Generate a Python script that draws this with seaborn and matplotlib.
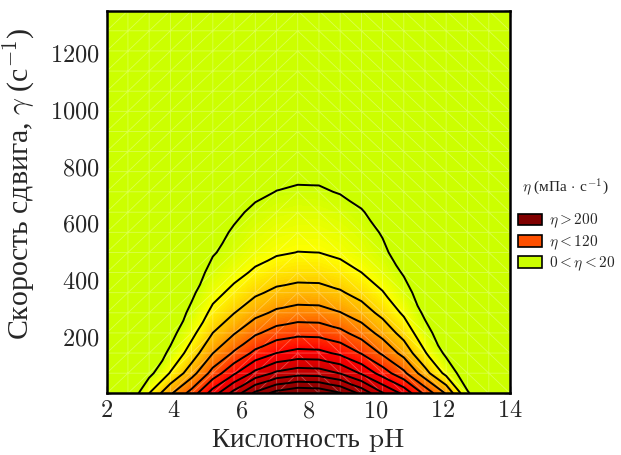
import numpy as np
import pandas as pd
import seaborn as sns
import matplotlib
matplotlib.use("Agg")
import matplotlib.pyplot as plt
import matplotlib.tri as mtri
from matplotlib.patches import Patch
from matplotlib.ticker import MultipleLocator

# ---- data ----
ph = [2.0, 2.632, 3.263, 3.895, 4.526, 5.158, 5.789, 6.421, 7.053, 7.684,
      8.316, 8.947, 9.579, 10.21, 10.84, 11.47, 12.1, 12.74, 13.37, 14.0]
shear = [0, 71, 142, 213, 284, 355, 426, 497, 568, 639,
         711, 782, 853, 924, 995, 1066, 1137, 1208, 1279, 1350]
# viscosity at the lowest shear rate, per pH node
eta_base = [0, 0, 40, 77, 108, 150, 188, 225, 248, 258,
            256, 242, 215, 182, 155, 115, 78, 22, 0, 0]
# relative fall of viscosity with shear rate (centre column)
shear_factor = [1.0, 0.744, 0.568, 0.442, 0.341, 0.264, 0.202, 0.156, 0.132, 0.1085,
                0.0837, 0.066, 0.052, 0.043, 0.035, 0.029, 0.023, 0.019, 0.016, 0.0135]
# how strongly each pH column thins with shear
decay_exponent = [4.0, 4.0, 3.5, 2.1, 1.4, 1.12, 1.07, 1.035, 1.01, 1.0,
                  1.0, 1.02, 1.05, 1.12, 1.33, 1.8, 2.8, 4.5, 5.0, 5.0]
line_levels = [20, 40, 60, 80, 100, 120, 140, 160, 180, 200, 220, 240]
band_colors = ["#CCFF00", "#CCFF00", "#FFFF00", "#FFCC00", "#FF9900", "#FF6600",
               "#FF3300", "#FF0000", "#E80000", "#D00000", "#B80000", "#A00000",
               "#900000", "#800000"]
legend_labels = [r"$\eta > 200$", r"$\eta < 120$", r"$0 < \eta < 20$"]
legend_colors = ["#800000", "#FF5000", "#CCFF00"]
x_ticks = [2, 4, 6, 8, 10, 12, 14]
y_ticks = [200, 400, 600, 800, 1000, 1200]

# ---- style ----
sns.set_style("ticks")
plt.rcParams["font.family"] = ["cmr10", "Liberation Serif"]
plt.rcParams["mathtext.fontset"] = "cm"
plt.rcParams["axes.formatter.use_mathtext"] = True

rows = []
for p, b, k in zip(ph, eta_base, decay_exponent):
    for g, f in zip(shear, shear_factor):
        rows.append((p, g, b * f ** k))
df = pd.DataFrame(rows, columns=["ph", "shear", "eta"])

nx, ny = len(ph), len(shear)
tris = []
for i in range(nx - 1):
    for j in range(ny - 1):
        a = i * ny + j
        b = (i + 1) * ny + j
        c = i * ny + j + 1
        d = (i + 1) * ny + j + 1
        if (ph[i] + ph[i + 1]) / 2 < 8:
            tris += [[a, b, d], [a, d, c]]
        else:
            tris += [[a, b, c], [b, d, c]]
tri = mtri.Triangulation(df["ph"].values, df["shear"].values, tris)

cmap = sns.blend_palette(band_colors, as_cmap=True)

fig = plt.figure(figsize=(6.21, 4.55), dpi=100)
ax = fig.add_axes([106.7 / 621, 1 - 393.3 / 455, 403.3 / 621, 382.6 / 455])

ax.tricontourf(tri, df["eta"].values, levels=np.linspace(0, 260, 131),
               cmap=cmap, vmin=0, vmax=260, extend="both", antialiased=False)
ax.triplot(tri, color="white", alpha=0.3, lw=0.6)
ax.tricontour(tri, df["eta"].values, levels=line_levels, colors="black",
              linewidths=1.4)

ax.set_xlim(2, 14)
ax.set_ylim(0, 1350)
ax.set_xticks(x_ticks)
ax.set_yticks(y_ticks)
ax.yaxis.set_minor_locator(MultipleLocator(100))
ax.tick_params(which="major", direction="in", length=5, width=1, labelsize=17.5,
               top=False, right=False, pad=5)
ax.tick_params(which="minor", direction="in", length=3, width=1,
               top=False, right=False)
for s in ax.spines.values():
    s.set_linewidth(1.8)
    s.set_color("black")

secx = ax.secondary_xaxis("top")
secx.set_xticks(np.linspace(2, 14, 15))
secx.tick_params(direction="in", labeltop=False, length=4, width=1)
secx.spines["top"].set_visible(False)
secy = ax.secondary_yaxis("right")
secy.set_yticks(np.linspace(0, 1350, 17))
secy.tick_params(direction="in", labelright=False, length=4, width=1)
secy.spines["right"].set_visible(False)

ax.set_xlabel("Кислотность pH", fontsize=19.5, labelpad=4)
ax.set_ylabel(r"Скорость сдвига, $\gamma$ (с$^{-1}$)", fontsize=21.5,
              family="Liberation Serif", math_fontfamily="cm")
ax.yaxis.set_label_coords(-0.172, 0.548)

fig.text(522 / 621, 1 - 187 / 455, r"$\eta$ (мПа$\,\cdot\,$с$^{-1}$)",
         fontsize=11, va="center", ha="left", family="Liberation Serif",
         math_fontfamily="cm")
handles = [Patch(facecolor=c, edgecolor="black", linewidth=1.2, label=l)
           for c, l in zip(legend_colors, legend_labels)]
fig.legend(handles=handles, loc="upper left",
           bbox_to_anchor=(518 / 621, 1 - 212 / 455), frameon=False,
           fontsize=11, handlelength=1.55, handleheight=0.8,
           handletextpad=0.5, labelspacing=0.2, borderaxespad=0, borderpad=0)

fig.savefig("out.png", dpi=100)
